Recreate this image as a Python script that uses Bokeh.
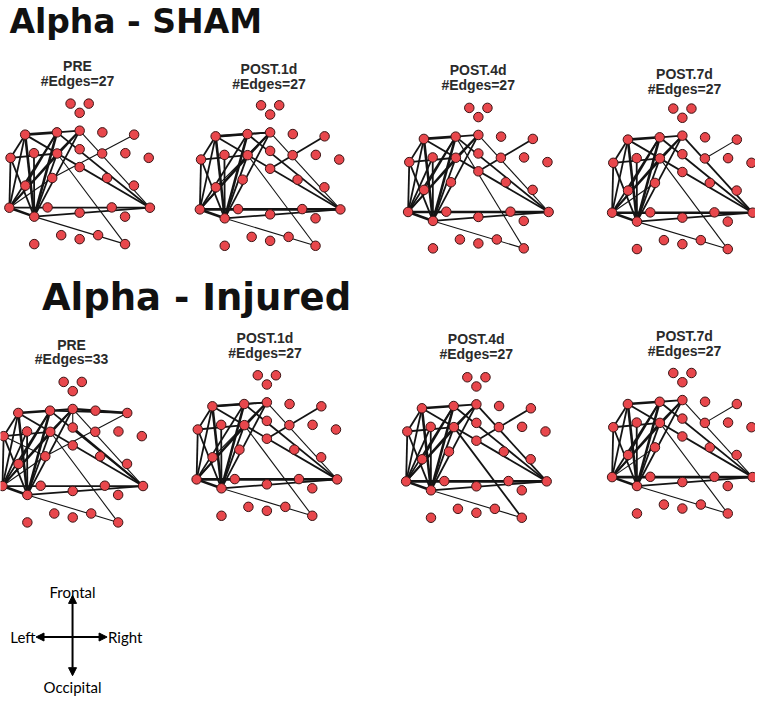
from bokeh.plotting import figure
from bokeh.models import Range1d, Arrow, NormalHead, ColumnDataSource
from bokeh.core.properties import value
from bokeh.embed import file_html
from bokeh.resources import INLINE

# ---------------- data ----------------
groups = ["Alpha - SHAM", "Alpha - Injured"]
sessions = ["PRE", "POST.1d", "POST.4d", "POST.7d"]
sham_edge_counts = [27, 27, 27, 27]
injured_edge_counts = [33, 27, 27, 27]

# 32-electrode layout (node 1..32), in px relative to the left temporal electrode (node 21)
node_x = [62.0, 80.4, 71.2, 16.0, 48.2, 71.2, 94.2, 126.4,
          1.2, 24.9, 48.4, 71.2, 94.0, 117.5, 141.2, 71.2,
          43.4, 99.0, 16.2, 126.2, 0.0, 38.7, 71.2, 103.7,
          142.4, 25.2, 117.2, 52.5, 71.2, 89.9, 25.2, 117.2]
node_y = [-105, -105, -95.7, -73.7, -76, -77.7, -76, -73.7,
          -50.3, -55, -54.7, -59, -54.7, -55, -50.3, -41,
          -30, -30, -22.3, -22.3, 0, -0.3, 5, -0.3,
          0, 9, 9, 27.7, 31.7, 27.7, 36.7, 36.7]

# edges: (node a, node b, strength 1..3)
sham_pre = [(4, 5, 3), (5, 6, 2), (4, 9, 2), (4, 26, 3), (4, 25, 2), (9, 21, 2), (9, 11, 2),
            (9, 26, 2), (5, 21, 2), (5, 26, 3), (6, 21, 2), (6, 26, 2), (6, 25, 1), (11, 32, 1),
            (8, 17, 1), (5, 25, 2), (21, 25, 2), (26, 25, 2), (26, 32, 1), (21, 26, 3), (10, 26, 2),
            (11, 21, 2), (17, 21, 1), (4, 21, 2), (5, 19, 2), (6, 11, 2), (11, 26, 2)]
sham_1d = [(4, 5, 3), (5, 6, 2), (4, 9, 2), (4, 26, 3), (4, 25, 2), (9, 21, 2), (9, 11, 2),
           (9, 26, 2), (5, 21, 2), (5, 26, 3), (6, 21, 2), (6, 26, 2), (6, 25, 1), (11, 32, 1),
           (8, 16, 2), (5, 25, 2), (21, 25, 3), (26, 25, 2), (26, 32, 1), (21, 26, 3), (10, 26, 2),
           (11, 21, 2), (6, 19, 1), (4, 21, 2), (4, 6, 2), (6, 11, 2), (11, 26, 2)]
sham_4d = [(4, 5, 3), (5, 6, 2), (4, 9, 2), (4, 26, 3), (4, 25, 2), (9, 21, 2), (9, 11, 2),
           (9, 26, 2), (5, 21, 2), (5, 26, 3), (6, 21, 2), (6, 26, 2), (6, 25, 1), (5, 32, 1),
           (8, 16, 2), (5, 25, 2), (21, 25, 3), (26, 25, 2), (26, 32, 1), (21, 26, 3), (10, 26, 2),
           (11, 21, 2), (10, 21, 2), (4, 21, 2), (5, 19, 2), (6, 11, 2), (11, 26, 2)]
sham_7d = [(4, 5, 3), (5, 6, 2), (4, 9, 2), (4, 26, 3), (4, 25, 2), (9, 21, 2), (9, 11, 2),
           (9, 26, 2), (5, 21, 2), (5, 26, 3), (6, 21, 2), (6, 26, 2), (6, 25, 2), (11, 32, 1),
           (8, 13, 1), (5, 25, 2), (21, 25, 3), (26, 25, 2), (26, 32, 1), (21, 26, 3), (10, 26, 2),
           (11, 21, 2), (17, 21, 1), (4, 21, 2), (5, 19, 2), (6, 11, 2), (11, 26, 2)]
injured_pre = sham_pre + [(6, 8, 3), (5, 8, 2), (12, 25, 2), (9, 17, 1), (10, 21, 2), (6, 12, 1)]
injured_1d = [(4, 5, 3), (5, 6, 2), (4, 9, 2), (4, 26, 3), (4, 25, 2), (9, 21, 2), (9, 11, 2),
              (9, 26, 2), (5, 21, 2), (5, 26, 3), (6, 21, 2), (6, 26, 2), (6, 25, 1), (11, 32, 1),
              (8, 16, 2), (5, 25, 2), (21, 25, 3), (26, 25, 2), (26, 32, 1), (21, 26, 3), (10, 26, 2),
              (11, 21, 2), (6, 19, 1), (4, 21, 2), (4, 6, 2), (6, 11, 2), (11, 26, 2)]
injured_4d = [(4, 5, 3), (5, 6, 2), (4, 9, 2), (4, 26, 3), (4, 25, 2), (9, 21, 2), (9, 11, 2),
              (9, 26, 2), (5, 21, 2), (5, 26, 3), (6, 21, 2), (6, 26, 2), (6, 25, 2), (11, 32, 2),
              (8, 16, 2), (5, 25, 2), (21, 25, 3), (26, 25, 2), (26, 32, 1), (21, 26, 3), (10, 26, 2),
              (11, 21, 2), (10, 21, 2), (4, 21, 2), (5, 19, 2), (6, 11, 2), (11, 26, 2)]
injured_7d = [(4, 5, 3), (5, 6, 2), (4, 9, 2), (4, 26, 3), (4, 25, 2), (9, 21, 2), (9, 11, 2),
              (9, 26, 2), (5, 21, 2), (5, 26, 3), (6, 21, 2), (6, 26, 2), (6, 25, 1), (11, 32, 1),
              (8, 13, 1), (5, 25, 2), (21, 25, 3), (26, 25, 2), (26, 32, 1), (21, 26, 3), (10, 26, 2),
              (11, 21, 2), (17, 21, 1), (4, 21, 2), (5, 19, 2), (6, 11, 2), (11, 26, 2)]

sham_edges = [sham_pre, sham_1d, sham_4d, sham_7d]
injured_edges = [injured_pre, injured_1d, injured_4d, injured_7d]

compass_labels = ["Frontal", "Occipital", "Left", "Right"]

# ---------------- layout / style ----------------
p = figure(width=755, height=698, output_backend="svg", toolbar_location=None, title=None,
           x_range=Range1d(3, 768), y_range=Range1d(710, 6), min_border=0)
p.axis.visible = False
p.grid.visible = False
p.outline_line_color = None
p.background_fill_color = "white"

sham_origin = [(12, 215), (205, 216.7), (416, 219.3), (622.7, 220)]
inj_origin = [(5, 495.7), (201.7, 489), (414, 491), (622.7, 486.7)]
sham_title_x = [81, 275, 487, 696]
sham_title_y1 = [72, 75, 76.5, 80]
sham_title_y2 = [87.5, 90, 91.5, 95]
inj_title_x = [75, 271, 485, 696]
inj_title_y1 = [353, 346, 347.5, 344.5]
inj_title_y2 = [368, 361.5, 362.5, 359.5]

width_map = {1: 1.1, 2: 1.8, 3: 2.6}
EDGE = "#141414"
NODE_FILL = "#e8474c"
NODE_LINE = "#3b1414"


def draw_panel(origin, edges):
    ox, oy = origin
    xs = [ox + v for v in node_x]
    ys = [oy + v for v in node_y]
    src = dict(x0=[], y0=[], x1=[], y1=[], w=[])
    for a, b, s in edges:
        src["x0"].append(xs[a - 1]); src["y0"].append(ys[a - 1])
        src["x1"].append(xs[b - 1]); src["y1"].append(ys[b - 1])
        src["w"].append(width_map[s])
    p.segment(x0="x0", y0="y0", x1="x1", y1="y1", line_width="w", line_color=EDGE,
              source=ColumnDataSource(src))
    p.scatter(xs, ys, marker="circle", size=9.5, fill_color=NODE_FILL,
              line_color=NODE_LINE, line_width=1)


for i in range(4):
    draw_panel(sham_origin[i], sham_edges[i])
    draw_panel(inj_origin[i], injured_edges[i])

# group titles
p.text(x=[12], y=[27], text=[groups[0]], text_font=value("DejaVu Sans"),
       text_font_style="bold", text_font_size="33px", text_color="#111111",
       text_align="left", text_baseline="alphabetic")
p.text(x=[45], y=[306], text=[groups[1]], text_font=value("DejaVu Sans"),
       text_font_style="bold", text_font_size="37px", text_color="#111111",
       text_align="left", text_baseline="alphabetic")

# panel titles
p.text(x=sham_title_x + inj_title_x, y=sham_title_y1 + inj_title_y1,
       text=sessions + sessions, text_font=value("Liberation Sans"), text_font_style="bold",
       text_font_size="14px", text_color="#2a2a2a", text_align="center",
       text_baseline="alphabetic")
p.text(x=sham_title_x + inj_title_x, y=sham_title_y2 + inj_title_y2,
       text=["#Edges=%d" % n for n in sham_edge_counts + injured_edge_counts],
       text_font=value("Liberation Sans"), text_font_style="bold",
       text_font_size="14px", text_color="black" if False else "#2a2a2a", text_align="center",
       text_baseline="alphabetic")

# orientation compass
cx, cy = 76, 648
for xe, ye in [(cx, 606), (cx, 687), (39, cy), (111, cy)]:
    p.add_layout(Arrow(x_start=cx, y_start=cy, x_end=xe, y_end=ye, line_width=2,
                       line_color="black",
                       end=NormalHead(size=8, fill_color="black", line_color="black")))
p.text(x=[cx, cx], y=[602.5, 698], text=compass_labels[:2], text_font=value("Lato"),
       text_font_size="15px", text_color="black", text_align="center", text_baseline="alphabetic")
p.text(x=[38.5], y=[cy], text=[compass_labels[2]], text_font=value("Lato"),
       text_font_size="15px", text_color="black", text_align="right", text_baseline="middle")
p.text(x=[112], y=[cy], text=[compass_labels[3]], text_font=value("Lato"),
       text_font_size="15px", text_color="black", text_align="left", text_baseline="middle")

open("out.html", "w").write(file_html(p, INLINE))
